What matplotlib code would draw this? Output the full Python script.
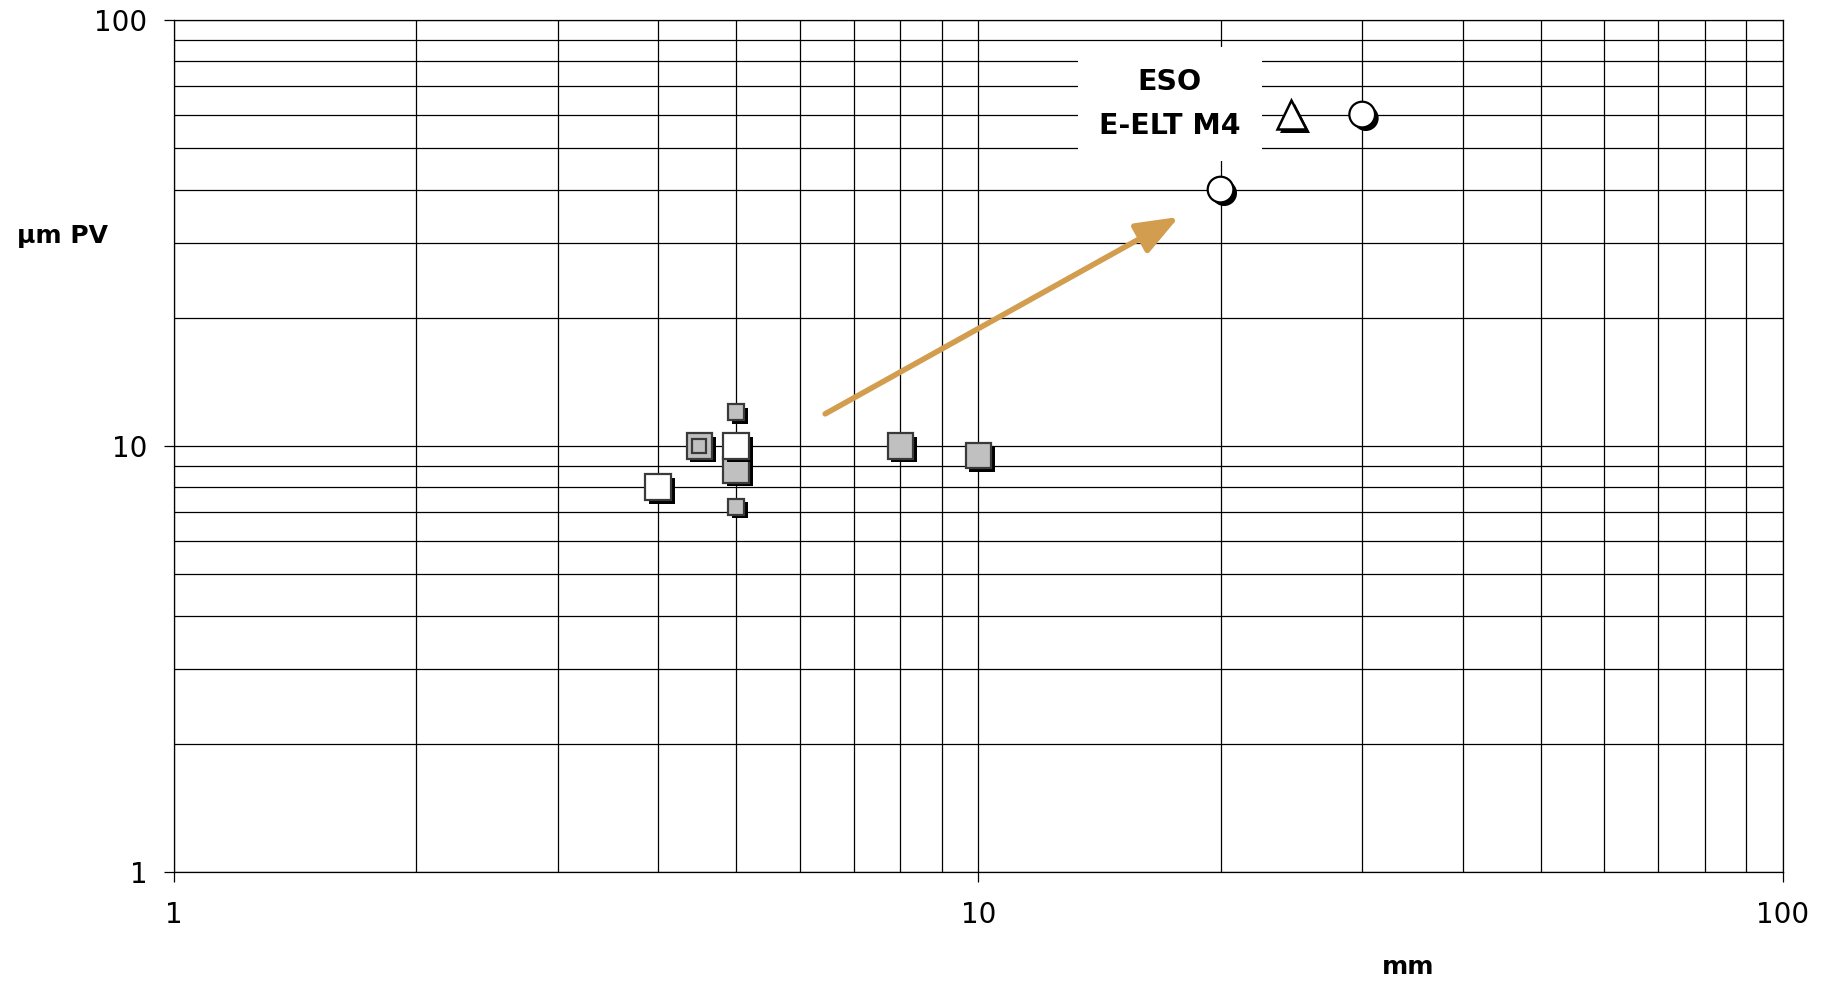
import matplotlib
matplotlib.use('Agg')
import matplotlib.pyplot as plt
import matplotlib.patheffects as pe
from matplotlib.ticker import FixedLocator, LogLocator, FuncFormatter, NullFormatter

plt.rcParams['font.family'] = ['DejaVu Sans']

# points grouped by marker style (mm, um PV)
white_sq_x = [4, 5]
white_sq_y = [8, 10]
gray_sq_x = [5, 8, 10]
gray_sq_y = [8.8, 10, 9.5]
small_sq_x = [5, 5]
small_sq_y = [12, 7.2]
framed_sq_x = [4.5]
framed_sq_y = [10]
circle_x = [20, 30]
circle_y = [40, 60]
triangle_x = [24.5]
triangle_y = [60]

label_text = 'ESO\nE-ELT M4'
label_x, label_y = 17.3, 63.5
arrow_from = (6.45, 11.9)
arrow_to = (17.75, 34.5)

fig = plt.figure(figsize=(18.25, 9.83), dpi=100)
ax = fig.add_axes([0.0953, 0.1129, 0.8816, 0.8667])
ax.set_xscale('log')
ax.set_yscale('log')
ax.set_xlim(1, 100)
ax.set_ylim(1, 100)

ax.xaxis.set_major_locator(FixedLocator([1, 10, 100]))
ax.yaxis.set_major_locator(FixedLocator([1, 10, 100]))
ax.xaxis.set_minor_locator(LogLocator(base=10, subs=range(2, 10)))
ax.yaxis.set_minor_locator(LogLocator(base=10, subs=range(2, 10)))
fmt = FuncFormatter(lambda v, p: '%g' % v)
ax.xaxis.set_major_formatter(fmt)
ax.yaxis.set_major_formatter(fmt)
ax.xaxis.set_minor_formatter(NullFormatter())
ax.yaxis.set_minor_formatter(NullFormatter())

ax.grid(True, which='both', color='black', linewidth=0.9)
ax.set_axisbelow(True)
ax.tick_params(which='major', direction='out', length=7, width=0.9, labelsize=20, color='black')
ax.tick_params(axis='x', which='major', pad=14)
ax.tick_params(axis='y', which='major', pad=12)
ax.tick_params(which='minor', length=0)
for s in ax.spines.values():
    s.set_color('black')
    s.set_linewidth(0.9)

shadow = [pe.SimplePatchShadow(offset=(2.6, -2.6), shadow_rgbFace='black', alpha=1.0), pe.Normal()]
edge = '#3a3a3a'

ax.plot(gray_sq_x, gray_sq_y, 's', ms=18.5, mfc='#c0c0c0', mec=edge, mew=1.6,
        path_effects=shadow, zorder=3)
ax.plot(white_sq_x, white_sq_y, 's', ms=18.5, mfc='white', mec=edge, mew=1.6,
        path_effects=shadow, zorder=4)
ax.plot(small_sq_x, small_sq_y, 's', ms=11.5, mfc='#c0c0c0', mec=edge, mew=1.6,
        path_effects=shadow, zorder=4)
ax.plot(framed_sq_x, framed_sq_y, 's', ms=18.5, mfc='#c0c0c0', mec=edge, mew=1.6,
        path_effects=shadow, zorder=4)
ax.plot(framed_sq_x, framed_sq_y, 's', ms=10.5, mfc='#c0c0c0', mec=edge, mew=1.6, zorder=5)
ax.plot(circle_x, circle_y, 'o', ms=18.5, mfc='white', mec='black', mew=1.6,
        path_effects=shadow, zorder=4)
ax.plot(triangle_x, triangle_y, '^', ms=21, mfc='white', mec='black', mew=1.8,
        path_effects=shadow, zorder=4)

ax.annotate('', xy=arrow_to, xytext=arrow_from,
            arrowprops=dict(arrowstyle='-|>,head_length=1.3,head_width=0.5',
                            mutation_scale=20, lw=4, color='#d29d4e',
                            shrinkA=0, shrinkB=0), zorder=6)

ax.text(label_x, label_y, label_text, ha='center', va='center', fontsize=20.5,
        fontweight='heavy', multialignment='center', linespacing=1.7, zorder=7,
        bbox=dict(boxstyle='square,pad=0.75', fc='white', ec='none'))

fig.text(0.0342, 0.76, 'µm PV', ha='center', va='center', fontsize=18, fontweight='bold')
fig.text(0.7715, 0.004, 'mm', ha='center', va='bottom', fontsize=18, fontweight='bold')

fig.savefig('out.png', dpi=100, facecolor='white')
